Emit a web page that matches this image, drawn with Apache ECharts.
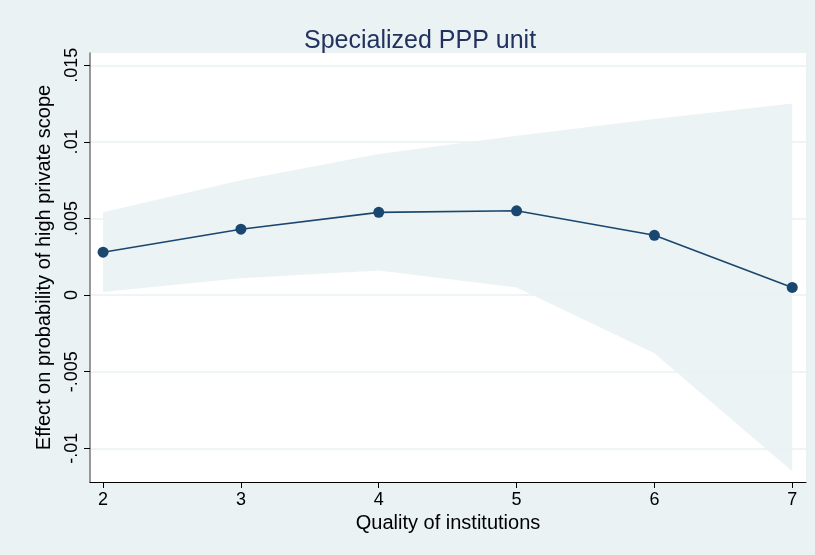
<!DOCTYPE html>
<html><head><meta charset="utf-8">
<script src="https://cdn.jsdelivr.net/npm/echarts@6/dist/echarts.min.js"></script>
<style>html,body{margin:0;padding:0;background:#eaf2f3;}#c{width:815px;height:555px;}</style>
</head><body><div id="c"></div>
<script>
const categories = [2, 3, 4, 5, 6, 7];
const effect = [0.0028, 0.0043, 0.0054, 0.0055, 0.0039, 0.0005];
const ciLower = [0.0002, 0.0011, 0.0016, 0.0005, -0.0038, -0.0115];
const ciUpper = [0.0054, 0.0075, 0.0092, 0.0104, 0.0115, 0.0125];
const xTicks = [2, 3, 4, 5, 6, 7];
const yTicks = [-0.01, -0.005, 0, 0.005, 0.01, 0.015];
const yTickLabels = ['-.01', '-.005', '0', '.005', '.01', '.015'];

const navy = '#1a476f';
const font = 'Liberation Sans, Arial, sans-serif';
const chart = echarts.init(document.getElementById('c'));
chart.setOption({
  backgroundColor: '#eaf2f3',
  animation: false,
  title: {text: 'Specialized PPP unit', left: 299, top: 24,
    textStyle: {color: '#22325e', fontSize: 25, fontWeight: 'normal', fontFamily: font}},
  grid: {left: 90, right: 9, top: 53, bottom: 73, show: true, backgroundColor: '#ffffff', borderWidth: 0},
  xAxis: {type: 'value', min: 1.905, max: 7.1,
    name: 'Quality of institutions', nameLocation: 'middle', nameGap: 31,
    nameTextStyle: {color: '#000', fontSize: 20, fontFamily: font},
    axisLine: {onZero: false, lineStyle: {color: '#000', width: 1}},
    axisTick: {customValues: xTicks, length: 6, lineStyle: {color: '#000'}},
    axisLabel: {customValues: xTicks, color: '#000', fontSize: 18, fontFamily: font, margin: 9},
    splitLine: {show: false}},
  yAxis: {type: 'value', min: -0.0122, max: 0.0158,
    name: 'Effect on probability of high private scope', nameLocation: 'middle', nameGap: 36,
    nameTextStyle: {color: '#000', fontSize: 20, fontFamily: font},
    axisLine: {show: true, lineStyle: {color: '#777', width: 1.5}},
    axisTick: {show: true, customValues: yTicks, length: 6, lineStyle: {color: '#000'}},
    axisLabel: {customValues: yTicks, rotate: 90, color: '#000', fontSize: 18, fontFamily: font, margin: 9,
      formatter: v => { const i = yTicks.findIndex(t => Math.abs(t - v) < 1e-9); return i >= 0 ? yTickLabels[i] : ''; }},
    splitLine: {show: true, lineStyle: {color: '#eaf2f3', width: 1.5}}},
  series: [
    {type: 'custom', silent: true, z: 1,
      data: categories.map((x, i) => [x, ciLower[i], ciUpper[i]]),
      renderItem: (params, api) => {
        if (params.dataIndex !== 0) return null;
        const upper = categories.map((x, i) => api.coord([x, ciUpper[i]]));
        const lower = categories.map((x, i) => api.coord([x, ciLower[i]])).reverse();
        return {type: 'polygon', shape: {points: upper.concat(lower)},
          style: {fill: '#eaf2f3', opacity: 0.9}};
      }},
    {type: 'line', z: 3, symbol: 'circle', symbolSize: 11, itemStyle: {color: navy},
      lineStyle: {color: navy, width: 1.6},
      data: categories.map((x, i) => [x, effect[i]])}
  ]
});
</script></body></html>
